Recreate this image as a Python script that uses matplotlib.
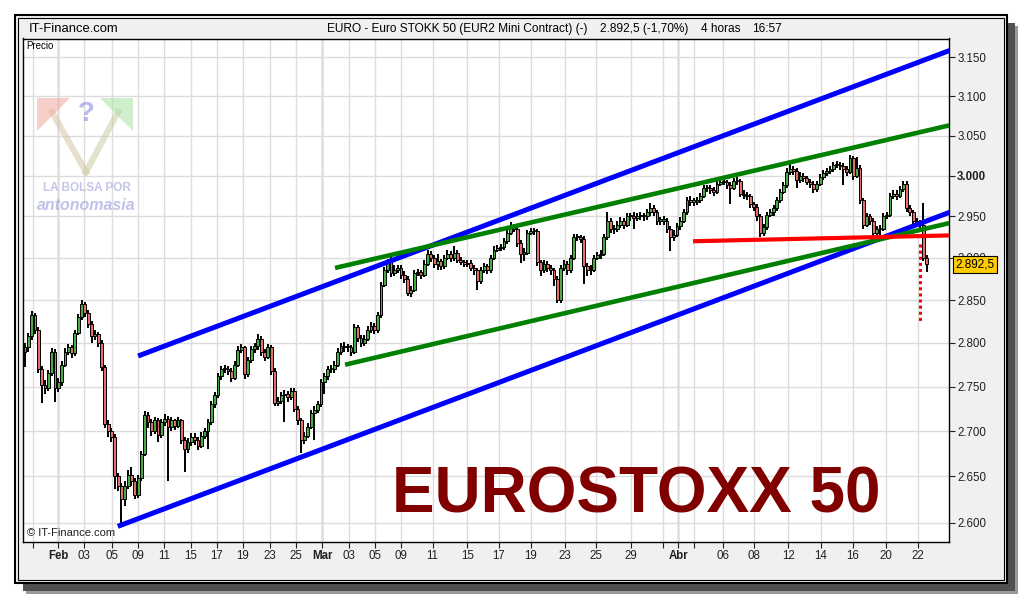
import numpy as np
import matplotlib
matplotlib.use("Agg")
import matplotlib.pyplot as plt
from matplotlib.patches import Rectangle, Polygon
from matplotlib.lines import Line2D
from matplotlib.ticker import FixedLocator, NullLocator, FuncFormatter

# Figure geometry (pixels)
W, H = 1020, 600
FONT = ['Liberation Sans Narrow', 'Liberation Sans', 'DejaVu Sans']
plt.rcParams['font.family'] = FONT

# 4h bars, EURO STOXX 50 mini future (price in points)
OPEN_FIRST = 2790
CLOSES = [
    2795, 2808, 2832, 2815, 2770, 2752, 2748, 2765, 2790, 2748,
    2755, 2775, 2790, 2795, 2788, 2812, 2830, 2845, 2835, 2822,
    2808, 2810, 2800, 2772, 2708, 2700, 2694, 2650, 2640, 2625,
    2640, 2652, 2645, 2630, 2648, 2675, 2718, 2710, 2700, 2712,
    2696, 2710, 2714, 2705, 2712, 2706, 2712, 2690, 2680, 2688,
    2694, 2690, 2684, 2695, 2700, 2710, 2730, 2740, 2762, 2770,
    2770, 2768, 2760, 2775, 2792, 2795, 2764, 2780, 2793, 2796,
    2805, 2790, 2784, 2795, 2768, 2732, 2734, 2740, 2742, 2738,
    2745, 2725, 2712, 2690, 2695, 2705, 2720, 2724, 2730, 2755,
    2762, 2770, 2770, 2775, 2790, 2796, 2795, 2795, 2790, 2818,
    2806, 2800, 2805, 2815, 2820, 2815, 2832, 2868, 2885, 2895,
    2882, 2886, 2888, 2880, 2875, 2858, 2862, 2882, 2883, 2880,
    2893, 2905, 2900, 2893, 2896, 2890, 2900, 2905, 2900, 2906,
    2898, 2895, 2893, 2894, 2888, 2885, 2872, 2885, 2890, 2885,
    2900, 2910, 2912, 2913, 2920, 2930, 2938, 2935, 2918, 2905,
    2906, 2930, 2932, 2932, 2895, 2885, 2893, 2888, 2885, 2875,
    2850, 2888, 2893, 2885, 2900, 2925, 2925, 2923, 2890, 2885,
    2886, 2900, 2903, 2905, 2925, 2945, 2935, 2935, 2940, 2945,
    2940, 2950, 2950, 2948, 2950, 2950, 2950, 2955, 2960, 2955,
    2945, 2945, 2945, 2935, 2925, 2928, 2938, 2945, 2955, 2970,
    2968, 2968, 2970, 2975, 2985, 2985, 2982, 2980, 2990, 2992,
    2992, 2988, 2985, 2993, 2993, 2978, 2976, 2975, 2965, 2962,
    2950, 2930, 2937, 2952, 2955, 2960, 2970, 2980, 2988, 3005,
    3008, 3006, 2995, 3000, 2997, 2992, 2990, 2983, 2990, 2998,
    3003, 3006, 3008, 3013, 3013, 3012, 3008, 3005, 3022, 3000,
    3010, 2970, 2940, 2950, 2945, 2930, 2935, 2935, 2950, 2952,
    2975, 2978, 2975, 2983, 2990, 2960, 2955, 2945, 2942, 2940,
    2900, 2892.5,
]
HIGHS = [
    2800, 2812, 2837, 2835, 2818, 2774, 2757, 2769, 2794, 2793,
    2760, 2779, 2794, 2799, 2798, 2815, 2834, 2850, 2848, 2838,
    2825, 2815, 2813, 2803, 2775, 2712, 2704, 2697, 2654, 2643,
    2645, 2657, 2660, 2648, 2652, 2678, 2722, 2721, 2713, 2716,
    2715, 2714, 2719, 2717, 2716, 2714, 2716, 2714, 2693, 2692,
    2698, 2698, 2693, 2699, 2704, 2714, 2734, 2744, 2766, 2774,
    2775, 2773, 2771, 2779, 2796, 2799, 2797, 2784, 2797, 2800,
    2810, 2808, 2793, 2799, 2798, 2771, 2738, 2744, 2746, 2745,
    2749, 2748, 2728, 2715, 2699, 2709, 2724, 2728, 2734, 2759,
    2766, 2774, 2775, 2779, 2794, 2800, 2801, 2799, 2798, 2822,
    2821, 2809, 2809, 2820, 2824, 2823, 2836, 2871, 2889, 2899,
    2905, 2891, 2892, 2891, 2884, 2878, 2867, 2886, 2887, 2886,
    2897, 2909, 2908, 2903, 2905, 2899, 2904, 2909, 2908, 2914,
    2909, 2901, 2898, 2898, 2897, 2891, 2888, 2889, 2894, 2893,
    2904, 2914, 2916, 2917, 2924, 2934, 2943, 2941, 2938, 2921,
    2912, 2934, 2936, 2936, 2935, 2898, 2897, 2896, 2892, 2888,
    2878, 2892, 2897, 2896, 2904, 2929, 2929, 2928, 2926, 2894,
    2891, 2904, 2907, 2909, 2929, 2956, 2948, 2940, 2944, 2949,
    2948, 2954, 2954, 2955, 2954, 2955, 2954, 2959, 2967, 2964,
    2958, 2949, 2950, 2948, 2938, 2933, 2942, 2949, 2959, 2974,
    2975, 2972, 2974, 2979, 2989, 2989, 2988, 2986, 2994, 2996,
    2997, 2995, 2992, 2997, 2998, 2996, 2982, 2980, 2978, 2968,
    2965, 2953, 2941, 2956, 2959, 2964, 2974, 2984, 2992, 3009,
    3018, 3012, 3009, 3004, 3003, 3000, 2996, 2993, 2994, 3002,
    3007, 3010, 3012, 3017, 3018, 3017, 3016, 3012, 3026, 3025,
    3023, 3013, 2973, 2954, 2953, 2948, 2939, 2940, 2954, 2956,
    2979, 2982, 2982, 2987, 2994, 2993, 2964, 2958, 2948, 2946,
    2966, 2904,
]
LOWS = [
    2772, 2790, 2804, 2810, 2765, 2732, 2742, 2745, 2762, 2733,
    2744, 2751, 2772, 2786, 2783, 2785, 2809, 2827, 2830, 2817,
    2800, 2804, 2795, 2768, 2704, 2694, 2688, 2636, 2634, 2600,
    2618, 2636, 2640, 2625, 2627, 2645, 2672, 2704, 2695, 2697,
    2688, 2692, 2706, 2645, 2700, 2701, 2703, 2686, 2655, 2676,
    2684, 2685, 2679, 2681, 2691, 2680, 2707, 2726, 2737, 2758,
    2765, 2763, 2755, 2757, 2772, 2789, 2759, 2761, 2777, 2789,
    2792, 2785, 2779, 2781, 2763, 2728, 2728, 2730, 2710, 2733,
    2735, 2721, 2707, 2676, 2686, 2692, 2702, 2690, 2720, 2727,
    2742, 2758, 2765, 2766, 2772, 2786, 2790, 2790, 2785, 2787,
    2801, 2795, 2796, 2802, 2812, 2810, 2812, 2829, 2865, 2882,
    2877, 2878, 2882, 2875, 2870, 2855, 2854, 2859, 2878, 2875,
    2877, 2890, 2895, 2888, 2885, 2886, 2887, 2897, 2895, 2896,
    2894, 2891, 2889, 2889, 2884, 2880, 2862, 2869, 2882, 2881,
    2882, 2897, 2907, 2908, 2910, 2917, 2927, 2931, 2913, 2894,
    2896, 2903, 2927, 2928, 2890, 2878, 2882, 2883, 2880, 2866,
    2846, 2847, 2884, 2880, 2882, 2897, 2920, 2918, 2869, 2878,
    2880, 2883, 2897, 2899, 2902, 2922, 2930, 2929, 2931, 2936,
    2935, 2937, 2945, 2935, 2944, 2946, 2945, 2946, 2951, 2950,
    2940, 2940, 2940, 2930, 2908, 2920, 2925, 2934, 2942, 2952,
    2963, 2963, 2964, 2966, 2972, 2980, 2978, 2975, 2977, 2987,
    2988, 2983, 2965, 2982, 2989, 2974, 2971, 2970, 2960, 2957,
    2945, 2925, 2926, 2934, 2949, 2951, 2957, 2967, 2977, 2985,
    3001, 3001, 2985, 2991, 2992, 2988, 2985, 2979, 2980, 2987,
    2995, 3000, 3002, 3005, 3009, 3007, 2988, 3000, 3002, 2995,
    2997, 2965, 2935, 2937, 2940, 2922, 2926, 2928, 2932, 2947,
    2949, 2971, 2970, 2972, 2980, 2955, 2950, 2940, 2937, 2935,
    2896, 2883,
]

# x axis: bar index of each session tick
TICK_POS = [2.3, 10.0, 17.8, 26.1, 33.9, 41.8, 49.8, 57.7, 65.5, 73.6, 81.5,
            89.4, 97.3, 105.1, 113.1, 122.5, 133.0, 142.4, 152.0, 162.2, 171.6,
            182.1, 191.7, 196.4, 201.1, 209.9, 219.2, 229.4, 239.2, 248.8,
            258.8, 268.5]
TICK_LABELS = ['', 'Feb', '03', '05', '09', '11', '15', '17', '19', '23', '25',
               'Mar', '03', '05', '09', '11', '15', '17', '19', '23', '25', '29',
               '', 'Abr', '', '06', '08', '12', '14', '16', '20', '22']
MONTHS = ['Feb', 'Mar', 'Abr']
Y_TICKS = list(range(2600, 3151, 50))

# drawn lines: (x0, p0, x1, p1)
BLUE_UP = (34.0, 2785, 277.9, 3159)
BLUE_LOW = (27.9, 2596, 277.9, 2955)
GREEN_UP = (93.2, 2888, 277.9, 3063)
GREEN_LOW = (96.2, 2775, 277.9, 2942)
RED_SUPPORT = (200.8, 2920, 277.9, 2927)
RED_DROP = (269.0, 2917, 269.0, 2824)

LAST_PRICE = 2892.5


def fx(x):
    return x / W


def fy(y):
    return 1 - y / H


def fmt_pts(v):
    return f"{int(v):,}".replace(",", ".")


fig = plt.figure(figsize=(W / 100, H / 100), dpi=100)
fig.patch.set_facecolor('white')

# shadow + outer panel
for off, col in [(11, '#9a9a9a'), (8, '#505050')]:
    fig.patches.append(Rectangle((fx(15 + off), fy(583 + off)), fx(992), 568 / H,
                                 transform=fig.transFigure, fc=col, ec='none', zorder=0))
fig.patches.append(Rectangle((fx(15), fy(583)), fx(992), 568 / H, transform=fig.transFigure,
                             fc='#f0f0f0', ec='black', lw=1.5, zorder=0.5))
fig.patches.append(Rectangle((fx(18), fy(580)), fx(986), 562 / H, transform=fig.transFigure,
                             fc='none', ec='black', lw=0.8, zorder=0.5))

# header
HEAD = 8.6
fig.text(fx(29), fy(29), 'IT-Finance.com', fontsize=9.4, va='center', ha='left', color='black')
fig.text(fx(327), fy(29), 'EURO - Euro STOKK 50 (EUR2 Mini Contract) (-)', fontsize=HEAD,
         va='center', ha='left')
fig.text(fx(600), fy(29), '2.892,5 (-1,70%)', fontsize=HEAD, va='center', ha='left')
fig.text(fx(701), fy(29), '4 horas', fontsize=HEAD, va='center', ha='left')
fig.text(fx(752), fy(29), '16:57', fontsize=HEAD, va='center', ha='left')

ax = fig.add_axes([fx(23), fy(542), 926.5 / W, 503.5 / H])
ax.set_zorder(2)
ax.set_facecolor('white')
ax.set_yscale('log')
ax.set_xlim(-0.6, 277.9)
ax.set_ylim(2579.3, 3174.7)

# grid
ax.yaxis.set_major_locator(FixedLocator(Y_TICKS))
ax.yaxis.set_minor_locator(NullLocator())
ax.yaxis.set_major_formatter(FuncFormatter(lambda v, p: fmt_pts(v)))
ax.set_xticks(TICK_POS)
ax.set_xticklabels(TICK_LABELS)
ax.grid(True, color='#dcdcdc', lw=1.0, zorder=0)
ax.set_axisbelow(True)
for pos, lab in zip(TICK_POS, TICK_LABELS):
    if lab in MONTHS:
        ax.axvline(pos, color='#a0a0a0', lw=1.0, zorder=0.5)

ax.yaxis.tick_right()
ax.tick_params(axis='y', direction='out', length=4, width=0.8, pad=1.5, labelsize=8.3,
               colors='#202020')
ax.tick_params(axis='x', direction='out', length=4, width=0.8, pad=2, labelsize=8.3,
               colors='#202020')
for lbl in ax.get_yticklabels():
    if lbl.get_text() == '3.000':
        lbl.set_fontweight('bold')
for lbl in ax.get_xticklabels():
    if lbl.get_text() in MONTHS:
        lbl.set_fontweight('bold')
for sp in ax.spines.values():
    sp.set_color('black')
    sp.set_linewidth(1.0)

# candles
closes = np.array(CLOSES, dtype=float)
highs = np.array(HIGHS, dtype=float)
lows = np.array(LOWS, dtype=float)
opens = np.concatenate([[OPEN_FIRST], closes[:-1]])
x = np.arange(len(closes))
up = closes >= opens
ax.vlines(x, lows, highs, color='black', lw=1.4, zorder=2)
body_lo = np.minimum(opens, closes)
body_h = np.maximum(np.abs(closes - opens), 1.5)
ax.bar(x, body_h, bottom=body_lo, width=0.85,
       color=np.where(up, '#46ad46', '#e46e6e'), edgecolor='black', linewidth=0.7, zorder=3)

# trend lines
for (x0, p0, x1, p1), col, lw in [(BLUE_UP, '#0000ff', 3.6), (BLUE_LOW, '#0000ff', 3.6),
                                  (GREEN_UP, '#008000', 3.3), (GREEN_LOW, '#008000', 3.3),
                                  (RED_SUPPORT, '#ff0000', 3.0)]:
    ax.plot([x0, x1], [p0, p1], color=col, lw=lw, solid_capstyle='butt', zorder=4)
ax.plot([RED_DROP[0], RED_DROP[2]], [RED_DROP[1], RED_DROP[3]], color='#ff0000', lw=2.2,
        linestyle=(0, (1, 1)), zorder=4)

# last price tag (covers the 2.900 label as in the original)
ax.annotate('2.892,5', xy=(1.0, LAST_PRICE), xycoords=ax.get_yaxis_transform(),
            xytext=(6, 0), textcoords='offset pixels', ha='left', va='center',
            fontsize=8.5, color='black', zorder=10, annotation_clip=False,
            bbox=dict(boxstyle='square,pad=0.2', fc='#ffcc00', ec='black', lw=0.8))

# inner labels
ax.text(0.004, 0.995, 'Precio', transform=ax.transAxes, fontsize=7, va='top', ha='left')
ax.text(0.004, 0.008, '\u00a9 IT-Finance.com', transform=ax.transAxes, fontsize=8,
        va='bottom', ha='left', color='#202020')
fig.text(fx(636), fy(512.5), 'EUROSTOXX 50', fontsize=46, fontweight='bold',
         family=['Liberation Sans', 'DejaVu Sans'], color='#800000', ha='center',
         va='baseline', zorder=5)


# watermark logo
def poly(pts, col):
    fig.patches.append(Polygon([(fx(a), fy(b)) for a, b in pts], closed=True,
                               transform=fig.transFigure, fc=col, ec='none', alpha=0.55,
                               zorder=3))


poly([(37, 98), (70, 98), (37, 131)], '#f2a89f')
poly([(133, 98), (100, 98), (133, 131)], '#a8e0a2')
fig.lines.append(Line2D([fx(52), fx(86)], [fy(112), fy(172)], transform=fig.transFigure,
                        color='#d6c7a6', lw=4.5, alpha=0.55, zorder=3))
fig.lines.append(Line2D([fx(118), fx(86)], [fy(112), fy(172)], transform=fig.transFigure,
                        color='#c9cda2', lw=4.5, alpha=0.55, zorder=3))
fig.text(fx(86), fy(114), '?', fontsize=20, fontweight='bold', color='#8c8ce8', alpha=0.6,
         ha='center', va='center', family=['Liberation Sans', 'DejaVu Sans'], zorder=4)
fig.text(fx(87), fy(188), 'LA BOLSA POR', fontsize=8.5, fontweight='bold', color='#9e9ee0',
         alpha=0.6, ha='center', va='center', family=['Liberation Sans', 'DejaVu Sans'],
         zorder=4)
fig.text(fx(86), fy(206), 'antonomasia', fontsize=11.5, fontweight='bold', style='italic',
         color='#9898dc', alpha=0.6, ha='center', va='center',
         family=['Liberation Sans', 'DejaVu Sans'], zorder=4)

fig.savefig('out.png', dpi=100)
